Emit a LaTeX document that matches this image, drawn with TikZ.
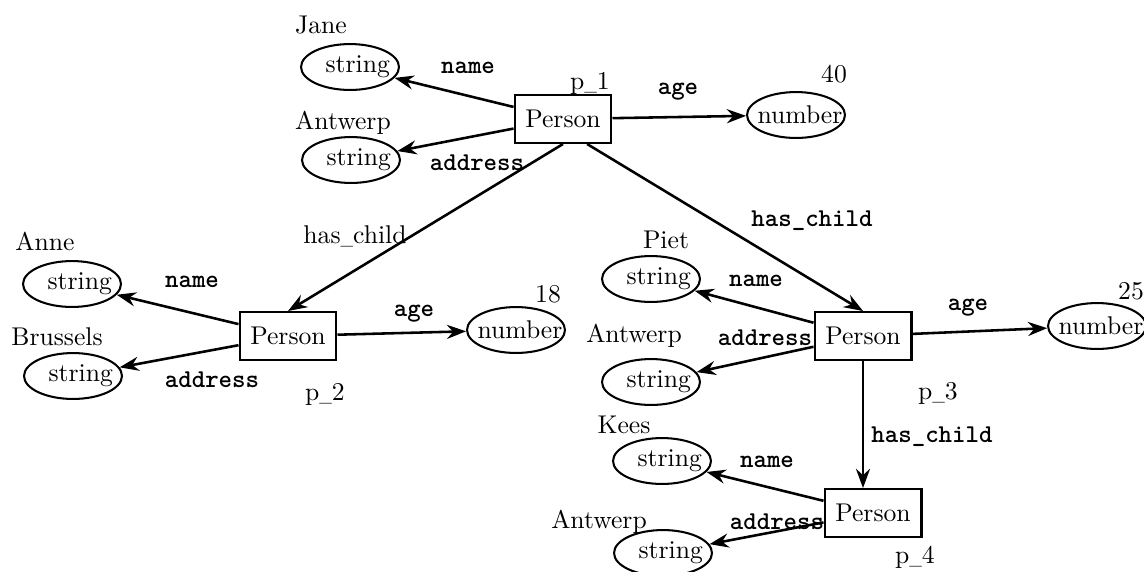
\documentclass[tikz,border=0pt]{standalone}
\usetikzlibrary{shapes.geometric,arrows.meta}
\newcommand{\shortus}{\scalebox{0.65}[1]{\_}}
\begin{document}
\tikzset{
 box/.style={draw, line width=0.8pt, rectangle, minimum width=37.8pt, minimum height=18.7pt, inner sep=0pt},
 ell/.style={draw, line width=0.8pt, ellipse, minimum width=38.2pt, minimum height=17.9pt, inner sep=0pt},
 txt/.style={inner sep=0pt},
 lbl/.style={inner sep=0pt, font=\ttfamily\bfseries},
 arr/.style={line width=1pt, -{Stealth[length=7.5pt,width=5.5pt,inset=2.5pt]}},
}
\begin{tikzpicture}[x=0.39pt,y=-0.39pt]
\useasboundingbox (0,0) rectangle (1144,571);
\clip (0,0) rectangle (1144,571);

% ---- p1 ----
\node[box] (p1) at (563,119) {Person};
\node[txt] (p1l) at (590,83) {p\shortus 1};
\node[ell] (jane) at (350,67) {};
\node[txt] (janet) at ([xshift=3pt]jane.center) {string};
\node[txt] (janel) at (321,25) {Jane};
\node[ell] (ant1) at (351,160) {};
\node[txt] (ant1t) at ([xshift=3pt]ant1.center) {string};
\node[txt] (ant1l) at (343,123) {Antwerp};
\node[ell] (n40) at (796,115) {};
\node[txt, anchor=west] (n40t) at ([xshift=4.3pt]n40.west) {number};
\node[txt] (n40l) at (834,74) {40};
\draw[arr] (p1) -- (jane);
\draw[arr] (p1) -- (ant1);
\draw[arr] (p1) -- (n40);
\node[lbl] (l1n) at (468,68) {name};
\node[lbl] (l1a) at (477,163) {address};
\node[lbl] (l1g) at (678,92) {age};

% ---- p2 ----
\node[box] (p2) at (288,336) {Person};
\node[txt] (p2l) at (325,394) {p\shortus 2};
\node[ell] (anne) at (72,284) {};
\node[txt] (annet) at ([xshift=3pt]anne.center) {string};
\node[txt] (annel) at (45,241) {Anne};
\node[ell] (brus) at (73,376) {};
\node[txt] (brust) at ([xshift=3pt]brus.center) {string};
\node[txt] (brusl) at (57,337) {Brussels};
\node[ell] (n18) at (516,330) {};
\node[txt, anchor=west] (n18t) at ([xshift=4.3pt]n18.west) {number};
\node[txt] (n18l) at (548,294) {18};
\draw[arr] (p2) -- (anne);
\draw[arr] (p2) -- (brus);
\draw[arr] (p2) -- (n18);
\node[lbl] (l2n) at (192,282) {name};
\node[lbl] (l2a) at (212,380) {address};
\node[lbl] (l2g) at (414,314) {age};
\draw[arr] (p1.south) -- (p2.north);
\node[txt] (hc1) at (355,236) {has\shortus child};

% ---- p3 ----
\node[box] (p3) at (863,336) {Person};
\node[txt] (p3l) at (938,393) {p\shortus 3};
\node[ell] (piet) at (651,279) {};
\node[txt] (piett) at ([xshift=3pt]piet.center) {string};
\node[txt] (pietl) at (666,240) {Piet};
\node[ell] (ant3) at (651,382) {};
\node[txt] (ant3t) at ([xshift=3pt]ant3.center) {string};
\node[txt] (ant3l) at (634,336) {Antwerp};
\node[ell] (n25) at (1097,326) {};
\node[txt, anchor=west] (n25t) at ([xshift=4.3pt]n25.west) {number};
\node[txt] (n25l) at (1131,291) {25};
\draw[arr] (p3) -- (piet);
\draw[arr] (p3) -- (ant3);
\draw[arr] (p3) -- (n25);
\node[lbl] (l3n) at (756,281) {name};
\node[lbl] (l3a) at (765,338) {address};
\node[lbl] (l3g) at (968,308) {age};
\draw[arr] ([xshift=9.4pt]p1.south) -- (p3.north);
\node[lbl] (hc2) at (812,221) {has\_child};

% ---- p4 ----
\node[box] (p4) at (873,513) {Person};
\node[txt] (p4l) at (915,557) {p\shortus 4};
\node[ell] (kees) at (662,461) {};
\node[txt] (keest) at ([xshift=3pt]kees.center) {string};
\node[txt] (keesl) at (624,425) {Kees};
\node[ell] (ant4) at (663,553) {};
\node[txt] (ant4t) at ([xshift=3pt]ant4.center) {string};
\node[txt] (ant4l) at (599,522) {Antwerp};
\draw[arr] (p4) -- (kees);
\draw[arr] (p4) -- (ant4);
\node[lbl] (l4n) at (767,462) {name};
\node[lbl] (l4a) at (777,522) {address};
\draw[arr] (p3.south) -- (p3.south |- p4.north);
\node[lbl] (hc3) at (932,437) {has\_child};
\end{tikzpicture}
\end{document}
